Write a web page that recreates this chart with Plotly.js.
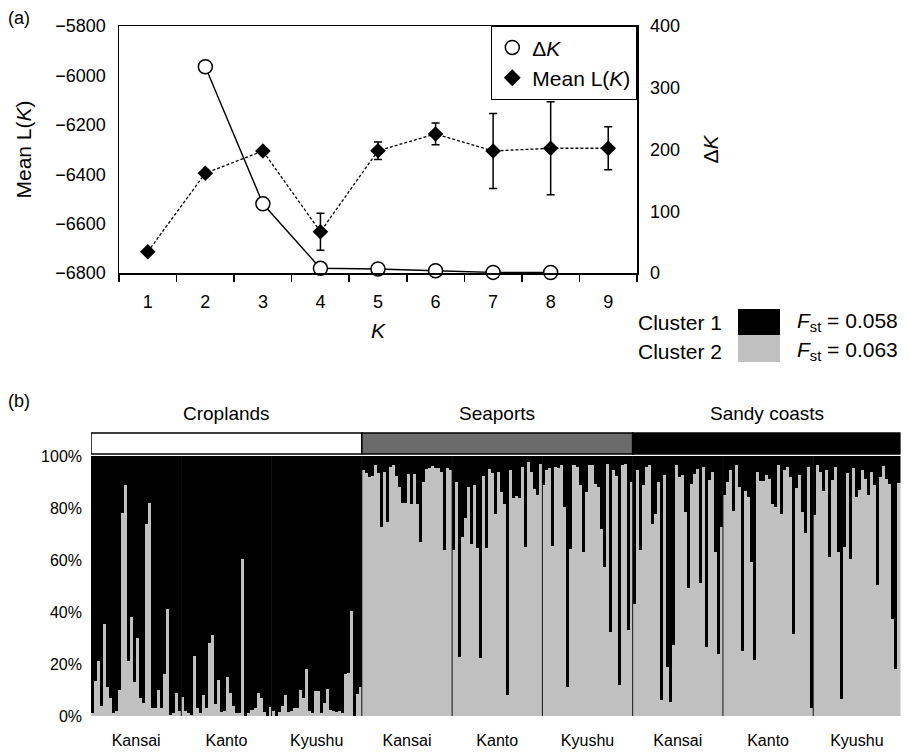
<!DOCTYPE html>
<html><head><meta charset="utf-8">
<script src="https://cdn.plot.ly/plotly-3.0.1.min.js"></script>
<style>html,body{margin:0;padding:0;background:#fff}#chart{width:909px;height:753px}</style>
</head><body><div id="chart"></div>
<script>
// ---------- Panel (a) data ----------
const K = [1, 2, 3, 4, 5, 6, 7, 8, 9];
const meanLK = [-6714, -6396, -6306, -6633, -6305, -6237, -6306, -6295, -6295];
const meanLKerr = [10, 10, 10, 75, 35, 44, 152, 188, 87];
const deltaK = [null, 334, 112, 7.6, 6.5, 3.7, 1, 0.8, null];

// ---------- Panel (b) data: Cluster 2 membership (%) per individual ----------
const habitats = ['Croplands', 'Seaports', 'Sandy coasts'];
const habitatColors = ['#ffffff', '#6b6b6b', '#000000'];
const regions = ['Kansai', 'Kanto', 'Kyushu'];
const clusterNames = ['Cluster 1', 'Cluster 2'];
const clusterFst = ['0.058', '0.063'];
const clusterColors = ['#000000', '#c0c0c0'];
const pctTicks = [0, 20, 40, 60, 80, 100];

const cropKansai = [1, 13.5, 21, 4, 35.5, 11, 7, 1, 2, 10, 78, 89, 21, 38, 13, 30, 7, 5, 74, 82, 3, 3, 10, 3, 16, 41, 0.5, 1, 9, 2];
const cropKanto = [7.5, 2, 1, 0.5, 23, 3, 1, 8, 3, 28, 31, 4.5, 14, 1.5, 2, 15, 9, 4, 1, 1, 60.5, 0, 1, 2.5, 3, 9, 7, 1.5, 0, 3.5];
const cropKyushu = [2, 0, 1.5, 4, 8, 1.5, 2, 3, 3, 10, 7, 18, 2, 1, 9.5, 9.5, 1, 5, 10.5, 2.5, 2, 1.5, 2, 1, 16, 16.5, 40.5, 0, 8.5, 11];
const seaKansai = [94.5, 93.6, 92, 92.5, 96.4, 93.6, 72.7, 94, 74.6, 95.8, 96.7, 92.5, 88, 82, 82, 93, 81.7, 93, 81.7, 67, 90, 95, 95.5, 96, 95.5, 95.5, 94, 63.7, 95.5, 94.5];
const seaKanto = [63.7, 90, 22.7, 68.8, 76, 88, 66, 88.7, 64.6, 22.3, 92.5, 64.6, 95, 93.6, 77.8, 94, 86, 81.7, 8.2, 94.5, 84, 84.6, 84, 95.8, 65, 97.7, 93.8, 87.4, 85, 97];
const seaKyushu = [88.7, 94.5, 95.4, 65.4, 95.8, 95.4, 96.4, 80.4, 11, 64.4, 96.4, 95.8, 88.7, 63, 86, 96.4, 96.4, 89.4, 88, 72, 57.3, 97, 32.3, 94.5, 92.5, 12, 96.4, 97, 33, 90];
const sandKansai = [43, 94.5, 63.7, 88.7, 95.8, 96.7, 74, 77.8, 90, 6, 92.8, 18.8, 5.4, 27.4, 96.4, 92, 92.8, 78.5, 49.2, 89.4, 93.2, 94.9, 51.3, 95.8, 26.5, 90.6, 94, 63, 24, 72.7];
const sandKanto = [84.9, 90, 94.5, 79, 96.4, 88, 24.9, 86.4, 84.2, 59.2, 21.4, 94, 90.3, 90.3, 92.8, 91.3, 81.7, 80.4, 96.4, 77.8, 94.5, 95.8, 91.9, 31.7, 87.7, 92.6, 78.5, 70.5, 95.8, 3];
const sandKyushu = [77.4, 96.4, 93.8, 86.4, 94.5, 61, 90.6, 95.8, 63, 6.4, 65, 93.6, 60.3, 95.4, 84.2, 86.8, 94.5, 91.3, 84.9, 94, 88.7, 50.5, 91.9, 96.2, 91.3, 89.4, 37.4, 18, 89.7];

const populations = [
  [cropKansai, cropKanto, cropKyushu],
  [seaKansai, seaKanto, seaKyushu],
  [sandKansai, sandKanto, sandKyushu]
];

// ---------- helpers ----------
const W = 909, H = 753;
const fx = x => x / W;
const fy = y => 1 - y / H;
const FONT = 'Arial, "Liberation Sans", sans-serif';

const idx = [], c2 = [], c1 = [];
const popCenters = [], popLabels = [], separators = [], habStart = [], habEnd = [];
let n = 0;
populations.forEach((hab, h) => {
  habStart.push(n);
  hab.forEach((pop, r) => {
    if (n > 0) separators.push(n - 0.5);
    popCenters.push(n + (pop.length - 1) / 2);
    popLabels.push(regions[r]);
    pop.forEach(v => { idx.push(n); c2.push(v); c1.push(100 - v); n++; });
  });
  habEnd.push(n);
});

const traces = [
  {x: K.map(String), y: meanLK, xaxis: 'x', yaxis: 'y', mode: 'lines+markers', showlegend: false,
   line: {color: '#000', width: 1.3, dash: '3px,2px'},
   marker: {symbol: 'diamond', size: 12, color: '#000'},
   error_y: {type: 'data', array: meanLKerr, visible: true, color: '#000', thickness: 1.5, width: 4},
   cliponaxis: false},
  {x: K.map(String), y: deltaK, xaxis: 'x', yaxis: 'y2', mode: 'lines+markers', showlegend: false,
   line: {color: '#000', width: 1.4}, connectgaps: false,
   marker: {symbol: 'circle', size: 14, color: '#fff', line: {color: '#000', width: 1.5}},
   cliponaxis: false},
  {x: [null], y: [null], xaxis: 'x', yaxis: 'y2', mode: 'markers', name: 'Δ<i>K</i>',
   marker: {symbol: 'circle', size: 14, color: '#fff', line: {color: '#000', width: 1.5}}},
  {x: [null], y: [null], xaxis: 'x', yaxis: 'y', mode: 'markers', name: 'Mean L(<i>K</i>)',
   marker: {symbol: 'diamond', size: 13, color: '#000'}},
  {type: 'bar', x: idx, y: c2, xaxis: 'x3', yaxis: 'y3', name: clusterNames[1], showlegend: false,
   marker: {color: clusterColors[1], line: {width: 0}}, hoverinfo: 'skip'},
  {type: 'bar', x: idx, y: c1, xaxis: 'x3', yaxis: 'y3', name: clusterNames[0], showlegend: false,
   marker: {color: clusterColors[0], line: {width: 0}}, hoverinfo: 'skip'}
];

const shapes = [];
separators.forEach(s => shapes.push({type: 'line', xref: 'x3', yref: 'y3', x0: s, x1: s, y0: -1.8, y1: 100,
  line: {color: '#141414', width: 1}, layer: 'above'}));
habitats.forEach((h, i) => shapes.push({type: 'rect', xref: 'x3', yref: 'paper',
  x0: habStart[i] - 0.5, x1: habEnd[i] - 0.5, y0: fy(454), y1: fy(433),
  fillcolor: habitatColors[i], line: {color: '#000', width: 1.5}}));
shapes.push({type: 'rect', xref: 'paper', yref: 'paper', x0: fx(738), x1: fx(780), y0: fy(335), y1: fy(309),
  fillcolor: clusterColors[0], line: {width: 0}});
shapes.push({type: 'rect', xref: 'paper', yref: 'paper', x0: fx(738), x1: fx(780), y0: fy(362), y1: fy(335),
  fillcolor: clusterColors[1], line: {width: 0}});

const annotations = [
  {text: '(a)', xref: 'paper', yref: 'paper', x: fx(6), y: fy(18), xanchor: 'left', yanchor: 'middle', showarrow: false, font: {size: 18}},
  {text: '(b)', xref: 'paper', yref: 'paper', x: fx(6), y: fy(401), xanchor: 'left', yanchor: 'middle', showarrow: false, font: {size: 18}}
];
habitats.forEach((h, i) => annotations.push({text: h, xref: 'x3', yref: 'paper',
  x: (habStart[i] + habEnd[i] - 1) / 2, y: fy(414), xanchor: 'center', yanchor: 'middle', showarrow: false, font: {size: 19}}));
clusterNames.forEach((c, i) => {
  annotations.push({text: c, xref: 'paper', yref: 'paper', x: fx(724), y: fy(322 + 29 * i), xanchor: 'right', yanchor: 'middle', showarrow: false, font: {size: 21}});
  annotations.push({text: '<i>F</i><sub>st</sub> = ' + clusterFst[i], xref: 'paper', yref: 'paper', x: fx(795), y: fy(322 + 29 * i), xanchor: 'left', yanchor: 'middle', showarrow: false, font: {size: 21}});
});

const layout = {
  width: W, height: H,
  margin: {l: 0, r: 0, t: 0, b: 0},
  paper_bgcolor: '#fff', plot_bgcolor: 'rgba(0,0,0,0)',
  font: {family: FONT, color: '#000', size: 18},
  barmode: 'stack', bargap: 0,
  showlegend: true,
  legend: {x: fx(637), xanchor: 'right', y: fy(26), yanchor: 'top', bordercolor: '#000', borderwidth: 1.3,
    bgcolor: '#fff', font: {size: 21}, tracegroupgap: 0, traceorder: 'normal',
    entrywidth: 118, entrywidthmode: 'pixels'},
  xaxis: {domain: [fx(119), fx(637)], anchor: 'y', type: 'category', range: [-0.5, 8.5],
    tickson: 'boundaries', ticks: 'outside', ticklen: 7, tickwidth: 1.5, tickcolor: '#000',
    showline: true, linecolor: '#000', linewidth: 1.5, mirror: true, showgrid: false, zeroline: false,
    tickfont: {size: 18}, ticklabelstandoff: 12,
    title: {text: '<i>K</i>', font: {size: 21}, standoff: 12}},
  yaxis: {domain: [fy(273), fy(26)], anchor: 'x', range: [-6800, -5800], dtick: 200, tick0: -6800,
    showline: true, linecolor: '#000', linewidth: 1.5, showgrid: false, zeroline: false, ticks: '',
    tickfont: {size: 18}, ticklabelstandoff: 8,
    title: {text: 'Mean L(<i>K</i>)', font: {size: 21}, standoff: 18}},
  yaxis2: {overlaying: 'y', side: 'right', anchor: 'x', range: [0, 400], dtick: 100,
    showline: true, linecolor: '#000', linewidth: 1.5, showgrid: false, zeroline: false, ticks: '',
    tickfont: {size: 18}, ticklabelstandoff: 8,
    title: {text: 'Δ<i>K</i>', font: {size: 21}, standoff: 24}},
  xaxis3: {domain: [fx(91), fx(900.5)], anchor: 'y3', range: [-0.5, n - 0.5],
    tickmode: 'array', tickvals: popCenters, ticktext: popLabels, ticks: '',
    showline: false, showgrid: false, zeroline: false, tickfont: {size: 16}, ticklabelstandoff: 13},
  yaxis3: {domain: [fy(716), fy(456)], anchor: 'x3', range: [0, 100], tickmode: 'array',
    tickvals: pctTicks, ticktext: pctTicks.map(v => v + '%'), ticks: '', showline: false, showgrid: false, zeroline: false,
    tickfont: {size: 16}, ticklabelstandoff: 8},
  shapes: shapes,
  annotations: annotations
};

Plotly.newPlot('chart', traces, layout, {displayModeBar: false, staticPlot: true});
</script>
</body></html>
